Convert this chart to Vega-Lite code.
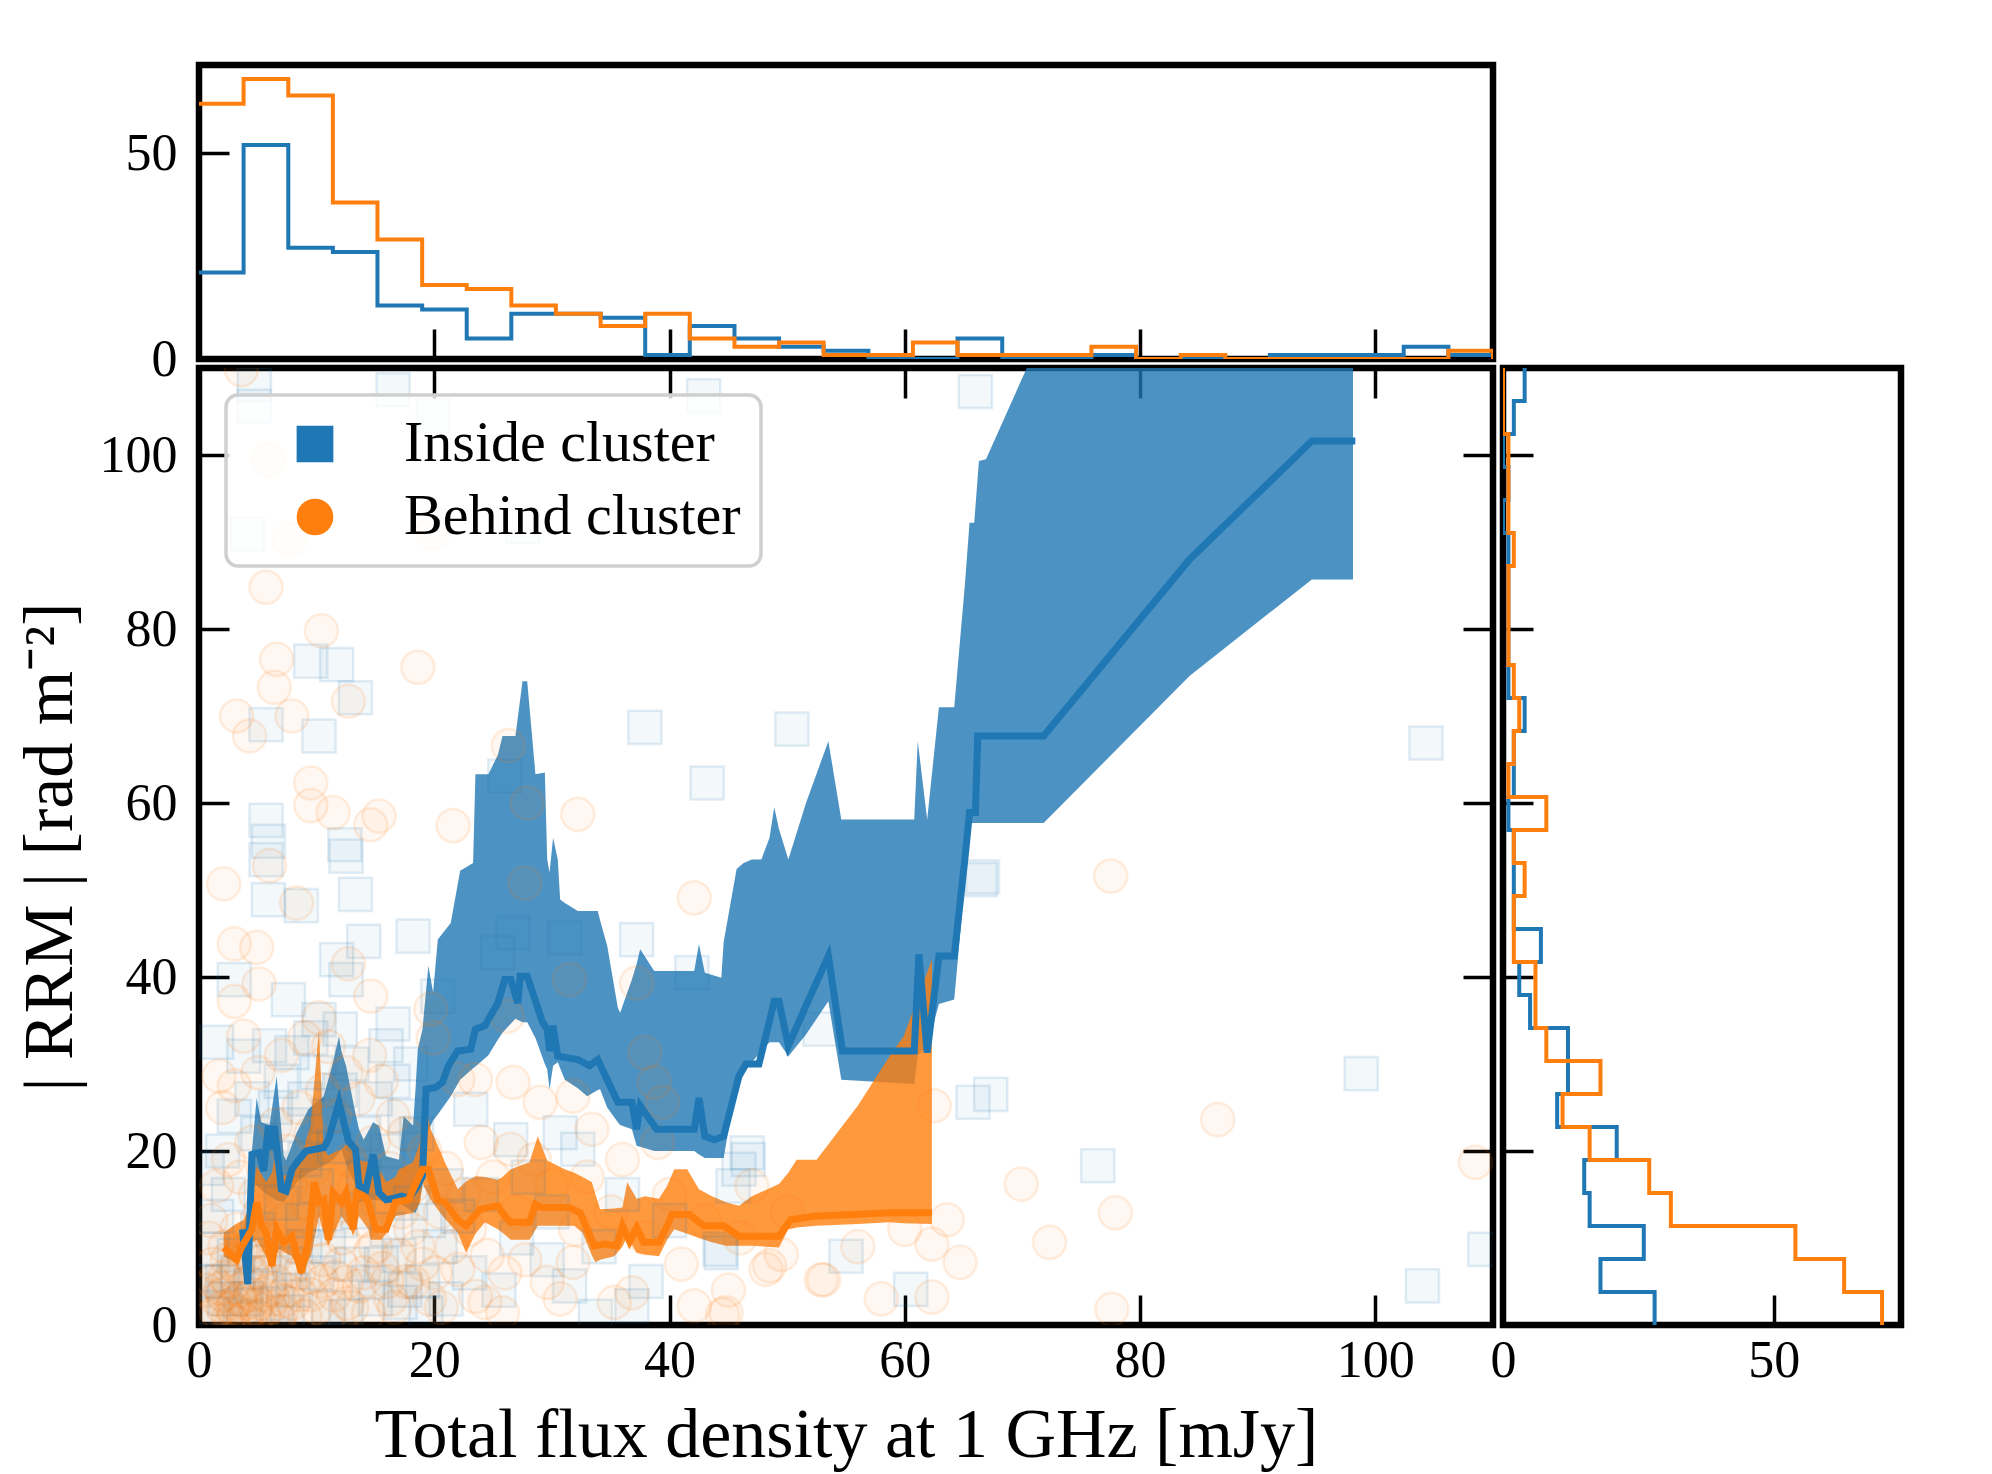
{
"$schema": "https://vega.github.io/schema/vega-lite/v6.json",
"background": "white",
"padding": {"left": 11, "top": 61, "right": 5, "bottom": 5},
"config": {
  "view": {"stroke": "black", "strokeWidth": 6.5},
  "axis": {"domain": false, "grid": false, "ticks": true, "tickSize": -30, "tickWidth": 3.5, "tickColor": "black",
           "labelFont": "Liberation Serif", "labelFontSize": 52, "labelColor": "black", "labelFlush": false, "labelOverlap": false,
           "titleFont": "Liberation Serif", "titleFontSize": 70, "titleFontWeight": "normal", "titleColor": "black", "zindex": 1},
  "axisBottom": {"labelPadding": 40},
  "axisLeft": {"labelPadding": 52},
  "legend": {"title": null, "labelFont": "Liberation Serif", "labelFontSize": 58, "labelColor": "black", "labelLimit": 0,
             "symbolSize": 1350, "symbolOpacity": 1, "symbolStrokeWidth": 0, "symbolOffset": 40, "labelOffset": 60,
             "rowPadding": 15, "padding": 20, "fillColor": "rgba(255,255,255,0.8)", "strokeColor": "#cfcfcf",
             "strokeWidth": 3.5, "cornerRadius": 12, "zindex": 3}
},
"datasets": {
  "topB": [{"e":0,"c":21},{"e":3.79,"c":52},{"e":7.59,"c":27},{"e":11.38,"c":26},{"e":15.17,"c":13},{"e":18.97,"c":12},{"e":22.76,"c":5},{"e":26.55,"c":11},{"e":30.34,"c":11},{"e":34.14,"c":10},{"e":37.93,"c":1},{"e":41.72,"c":8},{"e":45.52,"c":5},{"e":49.31,"c":3},{"e":53.1,"c":2},{"e":56.9,"c":0},{"e":60.69,"c":0},{"e":64.48,"c":5},{"e":68.28,"c":0},{"e":72.07,"c":0},{"e":75.86,"c":1},{"e":79.66,"c":0},{"e":83.45,"c":0},{"e":87.24,"c":0},{"e":91.03,"c":1},{"e":94.83,"c":1},{"e":98.62,"c":1},{"e":102.41,"c":3},{"e":106.21,"c":1},{"e":110,"c":0}],
  "topO": [{"e":0,"c":62},{"e":3.79,"c":68},{"e":7.59,"c":64},{"e":11.38,"c":38},{"e":15.17,"c":29},{"e":18.97,"c":18},{"e":22.76,"c":17},{"e":26.55,"c":13},{"e":30.34,"c":11},{"e":34.14,"c":8},{"e":37.93,"c":11},{"e":41.72,"c":5},{"e":45.52,"c":3},{"e":49.31,"c":4},{"e":53.1,"c":1},{"e":56.9,"c":1},{"e":60.69,"c":4},{"e":64.48,"c":1},{"e":68.28,"c":1},{"e":72.07,"c":1},{"e":75.86,"c":3},{"e":79.66,"c":0},{"e":83.45,"c":1},{"e":87.24,"c":0},{"e":91.03,"c":0},{"e":94.83,"c":0},{"e":98.62,"c":0},{"e":102.41,"c":0},{"e":106.21,"c":2},{"e":110,"c":0}],
  "rightB": [{"e":0,"c":28},{"e":3.79,"c":18},{"e":7.59,"c":26},{"e":11.38,"c":16},{"e":15.17,"c":15},{"e":18.97,"c":21},{"e":22.76,"c":10},{"e":26.55,"c":12},{"e":30.34,"c":12},{"e":34.14,"c":5},{"e":37.93,"c":3},{"e":41.72,"c":7},{"e":45.52,"c":2},{"e":49.31,"c":2},{"e":53.1,"c":2},{"e":56.9,"c":1},{"e":60.69,"c":2},{"e":64.48,"c":2},{"e":68.28,"c":4},{"e":72.07,"c":1},{"e":75.86,"c":1},{"e":79.66,"c":1},{"e":83.45,"c":1},{"e":87.24,"c":1},{"e":91.03,"c":0},{"e":94.83,"c":1},{"e":98.62,"c":0},{"e":102.41,"c":2},{"e":106.21,"c":4},{"e":110,"c":4}],
  "rightO": [{"e":0,"c":70},{"e":3.79,"c":63},{"e":7.59,"c":54},{"e":11.38,"c":31},{"e":15.17,"c":27},{"e":18.97,"c":16},{"e":22.76,"c":11},{"e":26.55,"c":18},{"e":30.34,"c":8},{"e":34.14,"c":6},{"e":37.93,"c":6},{"e":41.72,"c":2},{"e":45.52,"c":2},{"e":49.31,"c":4},{"e":53.1,"c":2},{"e":56.9,"c":8},{"e":60.69,"c":1},{"e":64.48,"c":2},{"e":68.28,"c":3},{"e":72.07,"c":2},{"e":75.86,"c":1},{"e":79.66,"c":1},{"e":83.45,"c":1},{"e":87.24,"c":2},{"e":91.03,"c":1},{"e":94.83,"c":1},{"e":98.62,"c":1},{"e":102.41,"c":0},{"e":106.21,"c":0},{"e":110,"c":0}],
  "bandB": [{"f":3.8,"lo":7.5,"hi":11.4},{"f":4.1,"lo":4.5,"hi":12.5},{"f":4.5,"lo":16.4,"hi":20},{"f":4.9,"lo":16,"hi":26.1},{"f":5.3,"lo":15.5,"hi":23.3},{"f":6.0,"lo":14.8,"hi":23},{"f":6.6,"lo":14.3,"hi":28.6},{"f":7.2,"lo":14.1,"hi":19.5},{"f":7.4,"lo":14.5,"hi":18.9},{"f":8.3,"lo":16.4,"hi":22.1},{"f":9.3,"lo":17.5,"hi":24.8},{"f":10.6,"lo":18.3,"hi":26.3},{"f":11.4,"lo":19,"hi":30.2},{"f":11.9,"lo":19.8,"hi":33.2},{"f":12.1,"lo":20.2,"hi":31.5},{"f":12.5,"lo":18.5,"hi":29.8},{"f":13.2,"lo":16.4,"hi":25},{"f":13.6,"lo":14.1,"hi":22.5},{"f":14.0,"lo":14.2,"hi":21.3},{"f":14.8,"lo":14.4,"hi":23.3},{"f":15.3,"lo":14.3,"hi":22.9},{"f":15.9,"lo":14.1,"hi":19.4},{"f":17.0,"lo":13.9,"hi":19},{"f":17.4,"lo":13.7,"hi":24},{"f":18.2,"lo":13,"hi":22.9},{"f":18.4,"lo":12.9,"hi":27},{"f":18.6,"lo":13.5,"hi":31.7},{"f":19.0,"lo":16,"hi":34},{"f":19.1,"lo":18,"hi":35.5},{"f":19.5,"lo":22.3,"hi":41.3},{"f":19.9,"lo":23.5,"hi":38.2},{"f":20.3,"lo":24.2,"hi":44.3},{"f":21.4,"lo":26.3,"hi":46.2},{"f":22.2,"lo":28.2,"hi":52.2},{"f":23.3,"lo":29.5,"hi":53.1},{"f":23.5,"lo":29.7,"hi":63.3},{"f":24.6,"lo":31,"hi":63.3},{"f":25.4,"lo":32.8,"hi":65.5},{"f":25.8,"lo":33.6,"hi":67.7},{"f":26.9,"lo":35.2,"hi":67.7},{"f":27.5,"lo":34.8,"hi":74},{"f":27.9,"lo":34.8,"hi":74},{"f":28.6,"lo":33,"hi":63.3},{"f":29.4,"lo":30,"hi":63.5},{"f":29.6,"lo":29.4,"hi":53.5},{"f":29.8,"lo":27.1,"hi":52},{"f":30.1,"lo":29.8,"hi":56},{"f":30.5,"lo":30.2,"hi":53.5},{"f":30.7,"lo":29.5,"hi":48.9},{"f":31.1,"lo":28.2,"hi":48.5},{"f":32.2,"lo":27.2,"hi":47.6},{"f":33.0,"lo":26.3,"hi":47.6},{"f":33.9,"lo":27,"hi":47.6},{"f":34.1,"lo":27.1,"hi":46.5},{"f":34.7,"lo":25,"hi":43.6},{"f":35.6,"lo":23.3,"hi":36.5},{"f":35.8,"lo":23,"hi":35.9},{"f":36.8,"lo":22.5,"hi":39.7},{"f":37.2,"lo":20.6,"hi":41.5},{"f":37.5,"lo":20.5,"hi":43.2},{"f":38.7,"lo":20,"hi":40.7},{"f":42.1,"lo":20,"hi":40.7},{"f":42.5,"lo":19.6,"hi":43.8},{"f":43.0,"lo":19.2,"hi":40.5},{"f":44.4,"lo":19.2,"hi":39.9},{"f":44.6,"lo":19.2,"hi":44},{"f":45.7,"lo":27.9,"hi":52.4},{"f":46.3,"lo":29,"hi":53.1},{"f":47.0,"lo":30.2,"hi":53.5},{"f":47.8,"lo":31.5,"hi":53.5},{"f":48.5,"lo":32.5,"hi":56},{"f":48.9,"lo":32.5,"hi":59.5},{"f":49.3,"lo":32.5,"hi":57},{"f":50.1,"lo":30.9,"hi":53.5},{"f":51.6,"lo":33.4,"hi":60},{"f":53.5,"lo":37.2,"hi":67.1},{"f":54.6,"lo":28.2,"hi":58.1},{"f":60.8,"lo":27.7,"hi":58.1},{"f":61.1,"lo":31,"hi":67.1},{"f":61.9,"lo":32,"hi":58.1},{"f":62.9,"lo":36.9,"hi":71},{"f":64.2,"lo":37.4,"hi":71},{"f":65.1,"lo":50.8,"hi":85},{"f":65.5,"lo":57.7,"hi":92.2},{"f":65.9,"lo":57.7,"hi":92.2},{"f":66.3,"lo":57.7,"hi":99.3},{"f":66.9,"lo":57.7,"hi":99.5},{"f":70.3,"lo":57.7,"hi":109.8},{"f":71.8,"lo":57.7,"hi":114},{"f":84.2,"lo":74.6,"hi":140},{"f":94.6,"lo":85.7,"hi":160},{"f":98.1,"lo":85.7,"hi":160}],
  "bandO": [{"f":2.1,"lo":7.9,"hi":10.6},{"f":3.0,"lo":7.2,"hi":11.5},{"f":3.8,"lo":8.5,"hi":12.1},{"f":4.5,"lo":9.5,"hi":14.4},{"f":4.9,"lo":9.8,"hi":18.3},{"f":5.7,"lo":7.9,"hi":16.4},{"f":6.2,"lo":6.4,"hi":17.5},{"f":6.4,"lo":7.5,"hi":19},{"f":6.8,"lo":8.7,"hi":17},{"f":7.9,"lo":7.9,"hi":17.5},{"f":8.7,"lo":5.6,"hi":19},{"f":9.1,"lo":7,"hi":21.3},{"f":9.5,"lo":7.9,"hi":23},{"f":9.6,"lo":8.5,"hi":24.8},{"f":10.2,"lo":12.5,"hi":34},{"f":10.6,"lo":10.5,"hi":20.2},{"f":11.0,"lo":9.1,"hi":19.5},{"f":12.1,"lo":12.5,"hi":20.2},{"f":12.9,"lo":11,"hi":21.3},{"f":13.1,"lo":10.2,"hi":20.5},{"f":13.6,"lo":12.5,"hi":19},{"f":14.4,"lo":11,"hi":18.7},{"f":14.6,"lo":9.8,"hi":18.5},{"f":15.5,"lo":9.8,"hi":17.5},{"f":15.9,"lo":10.5,"hi":16.4},{"f":16.7,"lo":12.5,"hi":17},{"f":17.0,"lo":12.6,"hi":17.9},{"f":18.2,"lo":12.9,"hi":18.7},{"f":18.8,"lo":14,"hi":21},{"f":19.0,"lo":16.4,"hi":23},{"f":19.1,"lo":16,"hi":26.3},{"f":19.7,"lo":14.4,"hi":22.5},{"f":20.5,"lo":12.9,"hi":20},{"f":20.9,"lo":12.2,"hi":18.7},{"f":22.0,"lo":10.6,"hi":15.6},{"f":22.7,"lo":8.3,"hi":16.5},{"f":23.5,"lo":10.5,"hi":17.1},{"f":24.3,"lo":11.8,"hi":17},{"f":25.4,"lo":11,"hi":16.7},{"f":25.8,"lo":10.6,"hi":17},{"f":26.5,"lo":9.8,"hi":17.9},{"f":28.1,"lo":9.8,"hi":18.7},{"f":28.8,"lo":11.4,"hi":21.7},{"f":29.6,"lo":11.4,"hi":18.9},{"f":31.1,"lo":11.4,"hi":17.9},{"f":31.9,"lo":11.4,"hi":17.5},{"f":32.6,"lo":10.6,"hi":17},{"f":33.4,"lo":8,"hi":16.4},{"f":33.7,"lo":7.2,"hi":15},{"f":34.1,"lo":7.5,"hi":13.3},{"f":35.3,"lo":7.9,"hi":13.4},{"f":36.0,"lo":9,"hi":13.5},{"f":36.4,"lo":10.2,"hi":16.4},{"f":37.2,"lo":8.3,"hi":14.5},{"f":37.9,"lo":8.1,"hi":14.8},{"f":39.1,"lo":7.9,"hi":14.5},{"f":39.8,"lo":9.8,"hi":16},{"f":40.4,"lo":11,"hi":17.9},{"f":41.5,"lo":10.5,"hi":17.9},{"f":42.5,"lo":10,"hi":15.6},{"f":43.6,"lo":9.5,"hi":14.8},{"f":44.8,"lo":9.1,"hi":14.1},{"f":45.9,"lo":9.1,"hi":13.7},{"f":47.0,"lo":9.1,"hi":14.8},{"f":49.3,"lo":8.9,"hi":16.2},{"f":50.1,"lo":11,"hi":17.5},{"f":50.8,"lo":11.2,"hi":19},{"f":52.5,"lo":11.4,"hi":19},{"f":56.0,"lo":11.6,"hi":25.2},{"f":58.7,"lo":11.8,"hi":30.9},{"f":59.9,"lo":11.7,"hi":33.2},{"f":62.3,"lo":11.6,"hi":42}],
  "medB": [{"f":3.7,"m":11},{"f":4.15,"m":4.7},{"f":4.5,"m":19.6},{"f":5.1,"m":19.8},{"f":5.5,"m":17.7},{"f":5.9,"m":22.9},{"f":6.2,"m":20.2},{"f":6.4,"m":22.9},{"f":7.0,"m":15.6},{"f":7.4,"m":15.4},{"f":7.9,"m":17.9},{"f":8.5,"m":19},{"f":9.1,"m":20},{"f":10.6,"m":20.4},{"f":11.0,"m":21.3},{"f":11.9,"m":25.6},{"f":12.7,"m":21.1},{"f":13.3,"m":20.2},{"f":13.6,"m":16},{"f":14.2,"m":15.6},{"f":14.8,"m":19.6},{"f":15.3,"m":15.2},{"f":15.9,"m":14.4},{"f":16.7,"m":14.6},{"f":17.2,"m":14.8},{"f":17.8,"m":14.6},{"f":18.4,"m":15.6},{"f":19.0,"m":17.1},{"f":19.3,"m":27.1},{"f":20.1,"m":27.3},{"f":20.7,"m":27.9},{"f":21.2,"m":29.8},{"f":22.0,"m":31.5},{"f":23.1,"m":31.7},{"f":23.5,"m":34},{"f":24.3,"m":34.4},{"f":25.4,"m":37},{"f":26.0,"m":39.7},{"f":26.5,"m":39.7},{"f":27.1,"m":37},{"f":27.3,"m":40.1},{"f":27.9,"m":40.1},{"f":29.2,"m":34.8},{"f":29.6,"m":34},{"f":29.8,"m":31.5},{"f":30.1,"m":34.4},{"f":30.5,"m":30.9},{"f":32.2,"m":30.5},{"f":33.2,"m":29.8},{"f":33.9,"m":30.5},{"f":34.7,"m":28.2},{"f":35.6,"m":25.6},{"f":36.8,"m":25.6},{"f":37.2,"m":22.5},{"f":37.5,"m":25.2},{"f":38.9,"m":22.5},{"f":42.1,"m":22.5},{"f":42.5,"m":26.1},{"f":43.0,"m":21.7},{"f":43.8,"m":21.3},{"f":44.6,"m":21.7},{"f":45.9,"m":28.6},{"f":46.5,"m":30},{"f":47.6,"m":30},{"f":48.9,"m":37.2},{"f":49.3,"m":37.2},{"f":50.1,"m":32.1},{"f":51.6,"m":36.7},{"f":53.5,"m":42.4},{"f":54.7,"m":31.5},{"f":60.8,"m":31.5},{"f":61.2,"m":42.6},{"f":61.9,"m":31.3},{"f":62.9,"m":42.4},{"f":64.2,"m":42.4},{"f":65.1,"m":53.5},{"f":65.5,"m":58.9},{"f":66.0,"m":58.9},{"f":66.2,"m":67.7},{"f":71.8,"m":67.7},{"f":84.2,"m":88},{"f":94.6,"m":101.6},{"f":98.3,"m":101.6}],
  "medO": [{"f":2.1,"m":8.9},{"f":2.6,"m":8.3},{"f":3.2,"m":7.5},{"f":3.6,"m":8.9},{"f":4.5,"m":11},{"f":4.9,"m":14.1},{"f":5.3,"m":11.5},{"f":5.7,"m":10.6},{"f":6.2,"m":6.8},{"f":6.6,"m":11},{"f":7.2,"m":9.5},{"f":7.9,"m":10.2},{"f":8.7,"m":6},{"f":9.3,"m":9.8},{"f":9.8,"m":16.4},{"f":10.2,"m":14.1},{"f":10.6,"m":14.4},{"f":11.0,"m":9.8},{"f":11.4,"m":15.2},{"f":12.1,"m":14.1},{"f":12.5,"m":15.2},{"f":13.1,"m":11},{"f":13.4,"m":15.2},{"f":14.0,"m":14.8},{"f":14.4,"m":14.1},{"f":15.0,"m":11},{"f":15.9,"m":11},{"f":16.7,"m":14.1},{"f":17.8,"m":14.4},{"f":19.0,"m":17.9},{"f":19.5,"m":17.9},{"f":20.3,"m":14.4},{"f":20.9,"m":14.1},{"f":22.0,"m":12.1},{"f":22.7,"m":11.4},{"f":23.9,"m":13.3},{"f":25.4,"m":13.7},{"f":26.0,"m":12.5},{"f":26.5,"m":11.8},{"f":28.1,"m":11.8},{"f":28.6,"m":13.9},{"f":29.2,"m":13.5},{"f":31.5,"m":13.5},{"f":32.4,"m":12.9},{"f":33.6,"m":9.1},{"f":34.5,"m":9.3},{"f":35.5,"m":9.1},{"f":36.0,"m":11.4},{"f":36.6,"m":9.6},{"f":37.2,"m":11.2},{"f":37.8,"m":9.5},{"f":39.1,"m":9.5},{"f":39.8,"m":11.4},{"f":40.2,"m":12.7},{"f":41.7,"m":12.7},{"f":42.9,"m":11.4},{"f":44.6,"m":11.4},{"f":45.9,"m":10.2},{"f":49.3,"m":10.2},{"f":50.3,"m":12.1},{"f":52.3,"m":12.5},{"f":58.7,"m":12.9},{"f":62.3,"m":12.9}],
  "pts": [
{"g":"Inside cluster","f":4.7,"r":108.1},{"g":"Inside cluster","f":4.7,"r":105.6},{"g":"Inside cluster","f":16.5,"r":107.5},{"g":"Inside cluster","f":19.9,"r":104.5},{"g":"Inside cluster","f":42.9,"r":106.8},{"g":"Inside cluster","f":66,"r":107.3},{"g":"Inside cluster","f":4.1,"r":90.9},{"g":"Inside cluster","f":27.5,"r":91.8},{"g":"Inside cluster","f":9.5,"r":76.3},{"g":"Inside cluster","f":11.7,"r":75.9},{"g":"Inside cluster","f":13.3,"r":72.1},{"g":"Inside cluster","f":5.7,"r":69},{"g":"Inside cluster","f":10.2,"r":67.7},{"g":"Inside cluster","f":37.9,"r":68.7},{"g":"Inside cluster","f":50.4,"r":68.5},{"g":"Inside cluster","f":43.2,"r":62.3},{"g":"Inside cluster","f":26,"r":63.1},{"g":"Inside cluster","f":104.3,"r":66.9},{"g":"Inside cluster","f":5.7,"r":58},{"g":"Inside cluster","f":5.9,"r":55.6},{"g":"Inside cluster","f":12.4,"r":55.2},{"g":"Inside cluster","f":5.7,"r":53.5},{"g":"Inside cluster","f":12.5,"r":53.9},{"g":"Inside cluster","f":13.3,"r":49.5},{"g":"Inside cluster","f":5.9,"r":48.9},{"g":"Inside cluster","f":8.7,"r":48.2},{"g":"Inside cluster","f":66.6,"r":51.5},{"g":"Inside cluster","f":18.2,"r":44.7},{"g":"Inside cluster","f":14,"r":44.1},{"g":"Inside cluster","f":11.7,"r":42},{"g":"Inside cluster","f":12.5,"r":39.7},{"g":"Inside cluster","f":3,"r":39.7},{"g":"Inside cluster","f":7.6,"r":37.4},{"g":"Inside cluster","f":10.2,"r":35.1},{"g":"Inside cluster","f":16.5,"r":34.6},{"g":"Inside cluster","f":20.3,"r":37.8},{"g":"Inside cluster","f":26.7,"r":45.1},{"g":"Inside cluster","f":31.1,"r":44.5},{"g":"Inside cluster","f":37.2,"r":44.3},{"g":"Inside cluster","f":41.9,"r":40.5},{"g":"Inside cluster","f":25.4,"r":42.8},{"g":"Inside cluster","f":3.8,"r":30.9},{"g":"Inside cluster","f":6,"r":32.1},{"g":"Inside cluster","f":7.9,"r":31.3},{"g":"Inside cluster","f":1.5,"r":32.5},{"g":"Inside cluster","f":15.9,"r":32.1},{"g":"Inside cluster","f":23.1,"r":24.8},{"g":"Inside cluster","f":26.5,"r":21.3},{"g":"Inside cluster","f":30.7,"r":22.1},{"g":"Inside cluster","f":32.2,"r":20.2},{"g":"Inside cluster","f":46.6,"r":19.8},{"g":"Inside cluster","f":45.9,"r":17.9},{"g":"Inside cluster","f":44.4,"r":8.3},{"g":"Inside cluster","f":55,"r":7.9},{"g":"Inside cluster","f":22,"r":12.5},{"g":"Inside cluster","f":29.6,"r":7.5},{"g":"Inside cluster","f":31.5,"r":4.5},{"g":"Inside cluster","f":36.8,"r":2.2},{"g":"Inside cluster","f":33.7,"r":1},{"g":"Inside cluster","f":17.1,"r":2.6},{"g":"Inside cluster","f":19.3,"r":1.4},{"g":"Inside cluster","f":14.4,"r":4.9},{"g":"Inside cluster","f":1.1,"r":8.7},{"g":"Inside cluster","f":1.5,"r":12.5},{"g":"Inside cluster","f":66.4,"r":51.2},{"g":"Inside cluster","f":98.8,"r":28.9},{"g":"Inside cluster","f":76.4,"r":18.3},{"g":"Inside cluster","f":67.3,"r":26.5},{"g":"Inside cluster","f":65.8,"r":25.6},{"g":"Inside cluster","f":60.5,"r":4.1},{"g":"Inside cluster","f":104,"r":4.5},{"g":"Inside cluster","f":109.3,"r":8.7},{"g":"Inside cluster","f":46.7,"r":19},{"g":"Inside cluster","f":45.4,"r":16},{"g":"Inside cluster","f":44.3,"r":8.7},{"g":"Inside cluster","f":52.8,"r":34},{"g":"Inside cluster","f":2,"r":20},{"g":"Inside cluster","f":3,"r":24},{"g":"Inside cluster","f":4.5,"r":26},{"g":"Inside cluster","f":5,"r":22},{"g":"Inside cluster","f":6.5,"r":25},{"g":"Inside cluster","f":7,"r":28},{"g":"Inside cluster","f":8,"r":23},{"g":"Inside cluster","f":9,"r":26},{"g":"Inside cluster","f":10,"r":29},{"g":"Inside cluster","f":11,"r":24},{"g":"Inside cluster","f":12,"r":27},{"g":"Inside cluster","f":13,"r":30},{"g":"Inside cluster","f":14,"r":22},{"g":"Inside cluster","f":15,"r":26},{"g":"Inside cluster","f":16.5,"r":28},{"g":"Inside cluster","f":17.5,"r":24},{"g":"Inside cluster","f":9.5,"r":33},{"g":"Inside cluster","f":12,"r":34},{"g":"Inside cluster","f":18,"r":30},{"g":"Inside cluster","f":1,"r":2},{"g":"Inside cluster","f":2,"r":5},{"g":"Inside cluster","f":3,"r":8},{"g":"Inside cluster","f":4,"r":3},{"g":"Inside cluster","f":5,"r":11},{"g":"Inside cluster","f":6,"r":6},{"g":"Inside cluster","f":7,"r":14},{"g":"Inside cluster","f":8,"r":4},{"g":"Inside cluster","f":9,"r":9},{"g":"Inside cluster","f":10,"r":16},{"g":"Inside cluster","f":11,"r":2},{"g":"Inside cluster","f":12,"r":12},{"g":"Inside cluster","f":13,"r":7},{"g":"Inside cluster","f":14,"r":17},{"g":"Inside cluster","f":15,"r":3},{"g":"Inside cluster","f":16,"r":11},{"g":"Inside cluster","f":17,"r":8},{"g":"Inside cluster","f":18,"r":14},{"g":"Inside cluster","f":19,"r":5},{"g":"Inside cluster","f":20.5,"r":9},{"g":"Inside cluster","f":21,"r":3},{"g":"Inside cluster","f":23,"r":6},{"g":"Inside cluster","f":24,"r":15},{"g":"Inside cluster","f":25.5,"r":4},{"g":"Inside cluster","f":27,"r":10},{"g":"Inside cluster","f":28,"r":17},{"g":"Inside cluster","f":30,"r":13},{"g":"Inside cluster","f":34,"r":9},{"g":"Inside cluster","f":36,"r":15},{"g":"Inside cluster","f":38,"r":5},{"g":"Inside cluster","f":40,"r":12},{"g":"Inside cluster","f":2.5,"r":15},{"g":"Inside cluster","f":6,"r":18},{"g":"Inside cluster","f":9,"r":19},{"g":"Inside cluster","f":11.5,"r":20.5},{"g":"Inside cluster","f":3.5,"r":1},{"g":"Inside cluster","f":7.5,"r":1.5},{"g":"Inside cluster","f":12.5,"r":1},{"g":"Inside cluster","f":0.5,"r":5},{"g":"Inside cluster","f":0.7,"r":18},{"g":"Inside cluster","f":2.2,"r":3},{"g":"Inside cluster","f":3.3,"r":6},{"g":"Inside cluster","f":4.4,"r":4.5},{"g":"Inside cluster","f":5.5,"r":8},{"g":"Inside cluster","f":6.6,"r":2.5},{"g":"Inside cluster","f":7.7,"r":7},{"g":"Inside cluster","f":8.8,"r":12},{"g":"Inside cluster","f":10,"r":6},{"g":"Inside cluster","f":11,"r":9},{"g":"Inside cluster","f":13.5,"r":13},{"g":"Inside cluster","f":15.5,"r":7},{"g":"Inside cluster","f":17.5,"r":4},{"g":"Inside cluster","f":19.5,"r":12},{"g":"Inside cluster","f":21,"r":16},{"g":"Inside cluster","f":16,"r":20},{"g":"Inside cluster","f":18.5,"r":22},
{"g":"Behind cluster","f":3.6,"r":109.8},{"g":"Behind cluster","f":5.9,"r":99.5},{"g":"Behind cluster","f":7.7,"r":90.3},{"g":"Behind cluster","f":19.9,"r":91.1},{"g":"Behind cluster","f":5.7,"r":84.8},{"g":"Behind cluster","f":10.4,"r":79.8},{"g":"Behind cluster","f":6.6,"r":76.5},{"g":"Behind cluster","f":6.4,"r":73.3},{"g":"Behind cluster","f":3.2,"r":70},{"g":"Behind cluster","f":7.9,"r":70},{"g":"Behind cluster","f":4.3,"r":67.7},{"g":"Behind cluster","f":12.7,"r":71.7},{"g":"Behind cluster","f":18.6,"r":75.6},{"g":"Behind cluster","f":9.5,"r":62.3},{"g":"Behind cluster","f":9.5,"r":59.7},{"g":"Behind cluster","f":11.4,"r":58.9},{"g":"Behind cluster","f":14.6,"r":57.5},{"g":"Behind cluster","f":15.3,"r":58.5},{"g":"Behind cluster","f":21.6,"r":57.4},{"g":"Behind cluster","f":26.3,"r":66.6},{"g":"Behind cluster","f":27.9,"r":60},{"g":"Behind cluster","f":32.2,"r":58.7},{"g":"Behind cluster","f":2.1,"r":50.7},{"g":"Behind cluster","f":6,"r":52.8},{"g":"Behind cluster","f":8.3,"r":48.5},{"g":"Behind cluster","f":3,"r":43.8},{"g":"Behind cluster","f":4.9,"r":43.4},{"g":"Behind cluster","f":12.7,"r":41.5},{"g":"Behind cluster","f":5.1,"r":39.2},{"g":"Behind cluster","f":3,"r":37.2},{"g":"Behind cluster","f":14.6,"r":37.8},{"g":"Behind cluster","f":10.2,"r":35.3},{"g":"Behind cluster","f":19.7,"r":36.3},{"g":"Behind cluster","f":19.9,"r":33},{"g":"Behind cluster","f":42.1,"r":49.1},{"g":"Behind cluster","f":27.7,"r":50.8},{"g":"Behind cluster","f":31.5,"r":39.7},{"g":"Behind cluster","f":37.9,"r":31.3},{"g":"Behind cluster","f":38.7,"r":27.9},{"g":"Behind cluster","f":39.4,"r":25.6},{"g":"Behind cluster","f":1.7,"r":28.6},{"g":"Behind cluster","f":3.8,"r":33.2},{"g":"Behind cluster","f":22,"r":28.2},{"g":"Behind cluster","f":23.5,"r":28.2},{"g":"Behind cluster","f":26.7,"r":27.9},{"g":"Behind cluster","f":26.2,"r":35.5},{"g":"Behind cluster","f":29,"r":25.6},{"g":"Behind cluster","f":31.8,"r":26.3},{"g":"Behind cluster","f":33.4,"r":22.5},{"g":"Behind cluster","f":26.5,"r":20.2},{"g":"Behind cluster","f":37.2,"r":39.3},{"g":"Behind cluster","f":48.5,"r":6.8},{"g":"Behind cluster","f":53.1,"r":5.2},{"g":"Behind cluster","f":42.1,"r":2.2},{"g":"Behind cluster","f":44.8,"r":1.4},{"g":"Behind cluster","f":24.3,"r":2.6},{"g":"Behind cluster","f":25.8,"r":1.4},{"g":"Behind cluster","f":29.6,"r":4.9},{"g":"Behind cluster","f":27.7,"r":7.5},{"g":"Behind cluster","f":30.7,"r":3},{"g":"Behind cluster","f":35.3,"r":2.6},{"g":"Behind cluster","f":36.8,"r":3.7},{"g":"Behind cluster","f":31.8,"r":7.2},{"g":"Behind cluster","f":23.5,"r":3.3},{"g":"Behind cluster","f":22,"r":6.4},{"g":"Behind cluster","f":20.1,"r":6},{"g":"Behind cluster","f":18.2,"r":4.9},{"g":"Behind cluster","f":16.3,"r":3},{"g":"Behind cluster","f":14.4,"r":1.4},{"g":"Behind cluster","f":12.5,"r":4.9},{"g":"Behind cluster","f":77.5,"r":51.6},{"g":"Behind cluster","f":86.6,"r":23.6},{"g":"Behind cluster","f":108.5,"r":18.7},{"g":"Behind cluster","f":69.9,"r":16.2},{"g":"Behind cluster","f":77.9,"r":12.9},{"g":"Behind cluster","f":72.3,"r":9.5},{"g":"Behind cluster","f":77.6,"r":1.8},{"g":"Behind cluster","f":62.5,"r":25.2},{"g":"Behind cluster","f":63.6,"r":12.1},{"g":"Behind cluster","f":62.3,"r":9.3},{"g":"Behind cluster","f":64.7,"r":7.2},{"g":"Behind cluster","f":62.3,"r":3.2},{"g":"Behind cluster","f":52.9,"r":5.2},{"g":"Behind cluster","f":48.2,"r":6.4},{"g":"Behind cluster","f":49.5,"r":8.1},{"g":"Behind cluster","f":44.5,"r":1.2},{"g":"Behind cluster","f":1,"r":1},{"g":"Behind cluster","f":1.5,"r":3},{"g":"Behind cluster","f":2,"r":2},{"g":"Behind cluster","f":2.5,"r":5},{"g":"Behind cluster","f":3,"r":1.5},{"g":"Behind cluster","f":3.5,"r":4},{"g":"Behind cluster","f":4,"r":2.5},{"g":"Behind cluster","f":4.5,"r":6},{"g":"Behind cluster","f":5,"r":1},{"g":"Behind cluster","f":5.5,"r":3.5},{"g":"Behind cluster","f":6,"r":2},{"g":"Behind cluster","f":6.5,"r":5},{"g":"Behind cluster","f":7,"r":1.5},{"g":"Behind cluster","f":7.5,"r":4},{"g":"Behind cluster","f":8,"r":2.5},{"g":"Behind cluster","f":8.5,"r":6},{"g":"Behind cluster","f":9,"r":1},{"g":"Behind cluster","f":9.5,"r":3.5},{"g":"Behind cluster","f":10,"r":2},{"g":"Behind cluster","f":10.5,"r":5},{"g":"Behind cluster","f":11,"r":1},{"g":"Behind cluster","f":11.5,"r":3.5},{"g":"Behind cluster","f":12,"r":7},{"g":"Behind cluster","f":13,"r":2},{"g":"Behind cluster","f":14,"r":6},{"g":"Behind cluster","f":15,"r":9},{"g":"Behind cluster","f":16,"r":5},{"g":"Behind cluster","f":17,"r":8},{"g":"Behind cluster","f":18,"r":11},{"g":"Behind cluster","f":19,"r":7},{"g":"Behind cluster","f":1.2,"r":7},{"g":"Behind cluster","f":2.2,"r":9},{"g":"Behind cluster","f":3.2,"r":11},{"g":"Behind cluster","f":4.2,"r":8},{"g":"Behind cluster","f":5.2,"r":13},{"g":"Behind cluster","f":6.2,"r":10},{"g":"Behind cluster","f":7.2,"r":12},{"g":"Behind cluster","f":8.2,"r":9},{"g":"Behind cluster","f":9.2,"r":14},{"g":"Behind cluster","f":10.2,"r":11},{"g":"Behind cluster","f":11.2,"r":13},{"g":"Behind cluster","f":12.2,"r":10},{"g":"Behind cluster","f":13.2,"r":16},{"g":"Behind cluster","f":14.2,"r":12},{"g":"Behind cluster","f":15.2,"r":14},{"g":"Behind cluster","f":16.2,"r":18},{"g":"Behind cluster","f":17.2,"r":13},{"g":"Behind cluster","f":18.2,"r":16},{"g":"Behind cluster","f":19.2,"r":20},{"g":"Behind cluster","f":20.5,"r":13},{"g":"Behind cluster","f":1.5,"r":16},{"g":"Behind cluster","f":2.5,"r":19},{"g":"Behind cluster","f":3.5,"r":17},{"g":"Behind cluster","f":4.5,"r":21},{"g":"Behind cluster","f":5.5,"r":18},{"g":"Behind cluster","f":6.5,"r":23},{"g":"Behind cluster","f":7.5,"r":20},{"g":"Behind cluster","f":8.5,"r":25},{"g":"Behind cluster","f":9.5,"r":22},{"g":"Behind cluster","f":10.5,"r":27},{"g":"Behind cluster","f":11.5,"r":24},{"g":"Behind cluster","f":12.5,"r":29},{"g":"Behind cluster","f":13.5,"r":26},{"g":"Behind cluster","f":14.5,"r":31},{"g":"Behind cluster","f":15.5,"r":28},{"g":"Behind cluster","f":16.5,"r":24},{"g":"Behind cluster","f":17.5,"r":22},{"g":"Behind cluster","f":2,"r":25},{"g":"Behind cluster","f":3,"r":27.5},{"g":"Behind cluster","f":1,"r":12},{"g":"Behind cluster","f":21,"r":18},{"g":"Behind cluster","f":22.5,"r":15},{"g":"Behind cluster","f":24,"r":21},{"g":"Behind cluster","f":25,"r":17},{"g":"Behind cluster","f":27,"r":13},{"g":"Behind cluster","f":28.5,"r":19},{"g":"Behind cluster","f":30,"r":16},{"g":"Behind cluster","f":32,"r":11},{"g":"Behind cluster","f":33,"r":17},{"g":"Behind cluster","f":35,"r":13},{"g":"Behind cluster","f":36,"r":19},{"g":"Behind cluster","f":38,"r":10},{"g":"Behind cluster","f":40,"r":15},{"g":"Behind cluster","f":41,"r":7},{"g":"Behind cluster","f":43,"r":12},{"g":"Behind cluster","f":45,"r":4},{"g":"Behind cluster","f":46,"r":10},{"g":"Behind cluster","f":50,"r":13},{"g":"Behind cluster","f":56,"r":9},{"g":"Behind cluster","f":58,"r":3},{"g":"Behind cluster","f":60,"r":11},{"g":"Behind cluster","f":47,"r":16},{"g":"Behind cluster","f":39,"r":21},{"g":"Behind cluster","f":0.6,"r":4},{"g":"Behind cluster","f":0.8,"r":10},{"g":"Behind cluster","f":2.8,"r":0.5},{"g":"Behind cluster","f":6.8,"r":0.6},{"g":"Behind cluster","f":4.8,"r":15},{"g":"Behind cluster","f":7.8,"r":16},{"g":"Behind cluster","f":9.8,"r":18},{"g":"Behind cluster","f":12.8,"r":19},{"g":"Behind cluster","f":14.8,"r":21},{"g":"Behind cluster","f":5,"r":29},{"g":"Behind cluster","f":7,"r":31},{"g":"Behind cluster","f":9,"r":33},{"g":"Behind cluster","f":11,"r":32},
{"g":"Behind cluster","f":1.5,"r":1.5},{"g":"Behind cluster","f":2,"r":3.5},{"g":"Behind cluster","f":2.5,"r":0.8},{"g":"Behind cluster","f":3,"r":2.5},{"g":"Behind cluster","f":3.5,"r":3},{"g":"Behind cluster","f":4,"r":1},{"g":"Behind cluster","f":4.5,"r":3.5},{"g":"Behind cluster","f":5,"r":2.5},{"g":"Behind cluster","f":5.5,"r":1.2},{"g":"Behind cluster","f":6,"r":4},{"g":"Behind cluster","f":2.2,"r":5.5},{"g":"Behind cluster","f":3.2,"r":6.5},{"g":"Behind cluster","f":4.2,"r":5},{"g":"Behind cluster","f":5.2,"r":6},{"g":"Behind cluster","f":1.8,"r":4.2},{"g":"Behind cluster","f":2.8,"r":2},{"g":"Behind cluster","f":3.8,"r":0.7},{"g":"Behind cluster","f":4.8,"r":2},{"g":"Behind cluster","f":6.3,"r":3},{"g":"Behind cluster","f":7.2,"r":2.8},{"g":"Behind cluster","f":1.2,"r":5},{"g":"Behind cluster","f":2.4,"r":7.5},{"g":"Behind cluster","f":3.6,"r":8.5},{"g":"Behind cluster","f":4.6,"r":9.5},{"g":"Behind cluster","f":5.6,"r":7.5},{"g":"Behind cluster","f":6.6,"r":8},{"g":"Behind cluster","f":7.6,"r":6.5},{"g":"Behind cluster","f":8.6,"r":3.5},{"g":"Behind cluster","f":9.6,"r":5.5},{"g":"Behind cluster","f":10.6,"r":7.5},{"g":"Behind cluster","f":11.6,"r":5.5},{"g":"Behind cluster","f":12.6,"r":2.5},{"g":"Behind cluster","f":13.6,"r":4.5},{"g":"Behind cluster","f":14.6,"r":8.5},{"g":"Behind cluster","f":15.6,"r":6.5},{"g":"Behind cluster","f":16.6,"r":2},{"g":"Behind cluster","f":17.6,"r":5},{"g":"Behind cluster","f":18.6,"r":9},{"g":"Behind cluster","f":19.6,"r":3},{"g":"Behind cluster","f":20.6,"r":2},{"g":"Behind cluster","f":21.5,"r":9},{"g":"Behind cluster","f":23,"r":11},{"g":"Behind cluster","f":24.5,"r":8},{"g":"Behind cluster","f":26,"r":6}
  ]
},
"bounds": "flush",
"spacing": 9,
"resolve": {"scale": {"color": "independent", "shape": "independent", "stroke": "independent"}, "legend": {"color": "independent", "shape": "independent", "stroke": "independent"}},
"vconcat": [
  {
    "width": 1294, "height": 294,
    "layer": [
      {"data": {"name": "topB"},
       "mark": {"type": "line", "interpolate": "step-after", "color": "#1f77b4", "strokeWidth": 4, "clip": true},
       "encoding": {
         "x": {"field": "e", "type": "quantitative", "scale": {"domain": [0, 110], "nice": false, "zero": false}, "axis": {"values": [20, 40, 60, 80, 100], "labels": false, "title": null}},
         "y": {"field": "c", "type": "quantitative", "scale": {"domain": [0, 71.4], "nice": false}, "axis": {"values": [0, 50], "title": null}}}},
      {"data": {"name": "topO"},
       "mark": {"type": "line", "interpolate": "step-after", "color": "#ff7f0e", "strokeWidth": 4, "clip": true},
       "encoding": {
         "x": {"field": "e", "type": "quantitative", "scale": {"domain": [0, 110], "nice": false, "zero": false}, "axis": {"values": [20, 40, 60, 80, 100], "labels": false, "title": null}},
         "y": {"field": "c", "type": "quantitative", "scale": {"domain": [0, 71.4], "nice": false}, "axis": {"values": [0, 50], "title": null}}}}
    ]
  },
  {
    "bounds": "flush",
    "spacing": 10,
    "resolve": {"scale": {"color": "independent", "shape": "independent", "stroke": "independent"}, "legend": {"color": "independent", "shape": "independent", "stroke": "independent"}},
    "hconcat": [
      {
        "width": 1294, "height": 957,
        "resolve": {"axis": {"x": "independent", "y": "independent"}},
        "layer": [
          {"data": {"name": "bandB"},
           "mark": {"type": "area", "color": "#1f77b4", "opacity": 0.8, "clip": true},
           "encoding": {
             "x": {"field": "f", "type": "quantitative", "scale": {"domain": [0, 110], "nice": false, "zero": false}, "axis": {"orient": "top", "values": [20, 40, 60, 80, 100], "labels": false, "title": null}},
             "y": {"field": "hi", "type": "quantitative", "scale": {"domain": [0, 110], "nice": false}, "axis": {"orient": "right", "values": [20, 40, 60, 80, 100], "labels": false, "title": null}},
             "y2": {"field": "lo"}}},
          {"data": {"name": "bandO"},
           "mark": {"type": "area", "color": "#ff7f0e", "opacity": 0.8, "clip": true},
           "encoding": {
             "x": {"field": "f", "type": "quantitative", "scale": {"domain": [0, 110], "nice": false, "zero": false}, "axis": null},
             "y": {"field": "hi", "type": "quantitative", "scale": {"domain": [0, 110], "nice": false}, "axis": null},
             "y2": {"field": "lo"}}},
          {"data": {"name": "pts"},
           "mark": {"type": "point", "filled": true, "size": 1100, "fillOpacity": 0.055, "strokeOpacity": 0.13, "strokeWidth": 2.5, "clip": true},
           "encoding": {
             "x": {"field": "f", "type": "quantitative", "scale": {"domain": [0, 110], "nice": false, "zero": false},
                   "axis": {"values": [0, 20, 40, 60, 80, 100], "title": "Total flux density at 1 GHz [mJy]", "titleY": 131, "titleBaseline": "alphabetic", "titleFontSize": 70}},
             "y": {"field": "r", "type": "quantitative", "scale": {"domain": [0, 110], "nice": false},
                   "axis": {"values": [0, 20, 40, 60, 80, 100], "title": "| RRM | [rad m⁻²]", "titleX": -128, "titleBaseline": "alphabetic", "titleFontSize": 70}},
             "color": {"field": "g", "type": "nominal", "scale": {"domain": ["Inside cluster", "Behind cluster"], "range": ["#1f77b4", "#ff7f0e"]},
                       "legend": {"orient": "top-left", "offset": 27, "title": null,
                                  "encode": {"symbols": {"update": {"fillOpacity": {"value": 1}, "strokeWidth": {"value": 0}, "opacity": {"value": 1}}}}}},
             "shape": {"field": "g", "type": "nominal", "scale": {"domain": ["Inside cluster", "Behind cluster"], "range": ["square", "circle"]},
                       "legend": {"orient": "top-left", "offset": 27, "title": null}},
             "stroke": {"field": "g", "type": "nominal", "scale": {"domain": ["Inside cluster", "Behind cluster"], "range": ["#1f77b4", "#ff7f0e"]}, "legend": null}}},
          {"data": {"name": "medB"},
           "mark": {"type": "line", "color": "#1f77b4", "strokeWidth": 7, "clip": true},
           "encoding": {
             "x": {"field": "f", "type": "quantitative", "scale": {"domain": [0, 110], "nice": false, "zero": false}, "axis": null},
             "y": {"field": "m", "type": "quantitative", "scale": {"domain": [0, 110], "nice": false}, "axis": null}}},
          {"data": {"name": "medO"},
           "mark": {"type": "line", "color": "#ff7f0e", "strokeWidth": 7, "clip": true},
           "encoding": {
             "x": {"field": "f", "type": "quantitative", "scale": {"domain": [0, 110], "nice": false, "zero": false}, "axis": null},
             "y": {"field": "m", "type": "quantitative", "scale": {"domain": [0, 110], "nice": false}, "axis": null}}}
        ]
      },
      {
        "width": 398, "height": 957,
        "layer": [
          {"data": {"name": "rightB"},
           "mark": {"type": "line", "interpolate": "step-before", "color": "#1f77b4", "strokeWidth": 4, "clip": true},
           "encoding": {
             "x": {"field": "c", "type": "quantitative", "scale": {"domain": [0, 73.5], "nice": false}, "axis": {"values": [0, 50], "title": null}},
             "y": {"field": "e", "type": "quantitative", "scale": {"domain": [0, 110], "nice": false}, "axis": {"values": [20, 40, 60, 80, 100], "labels": false, "title": null}},
             "order": {"field": "e", "type": "quantitative"}}},
          {"data": {"name": "rightO"},
           "mark": {"type": "line", "interpolate": "step-before", "color": "#ff7f0e", "strokeWidth": 4, "clip": true},
           "encoding": {
             "x": {"field": "c", "type": "quantitative", "scale": {"domain": [0, 73.5], "nice": false}, "axis": {"values": [0, 50], "title": null}},
             "y": {"field": "e", "type": "quantitative", "scale": {"domain": [0, 110], "nice": false}, "axis": {"values": [20, 40, 60, 80, 100], "labels": false, "title": null}},
             "order": {"field": "e", "type": "quantitative"}}}
        ]
      }
    ]
  }
]
}
